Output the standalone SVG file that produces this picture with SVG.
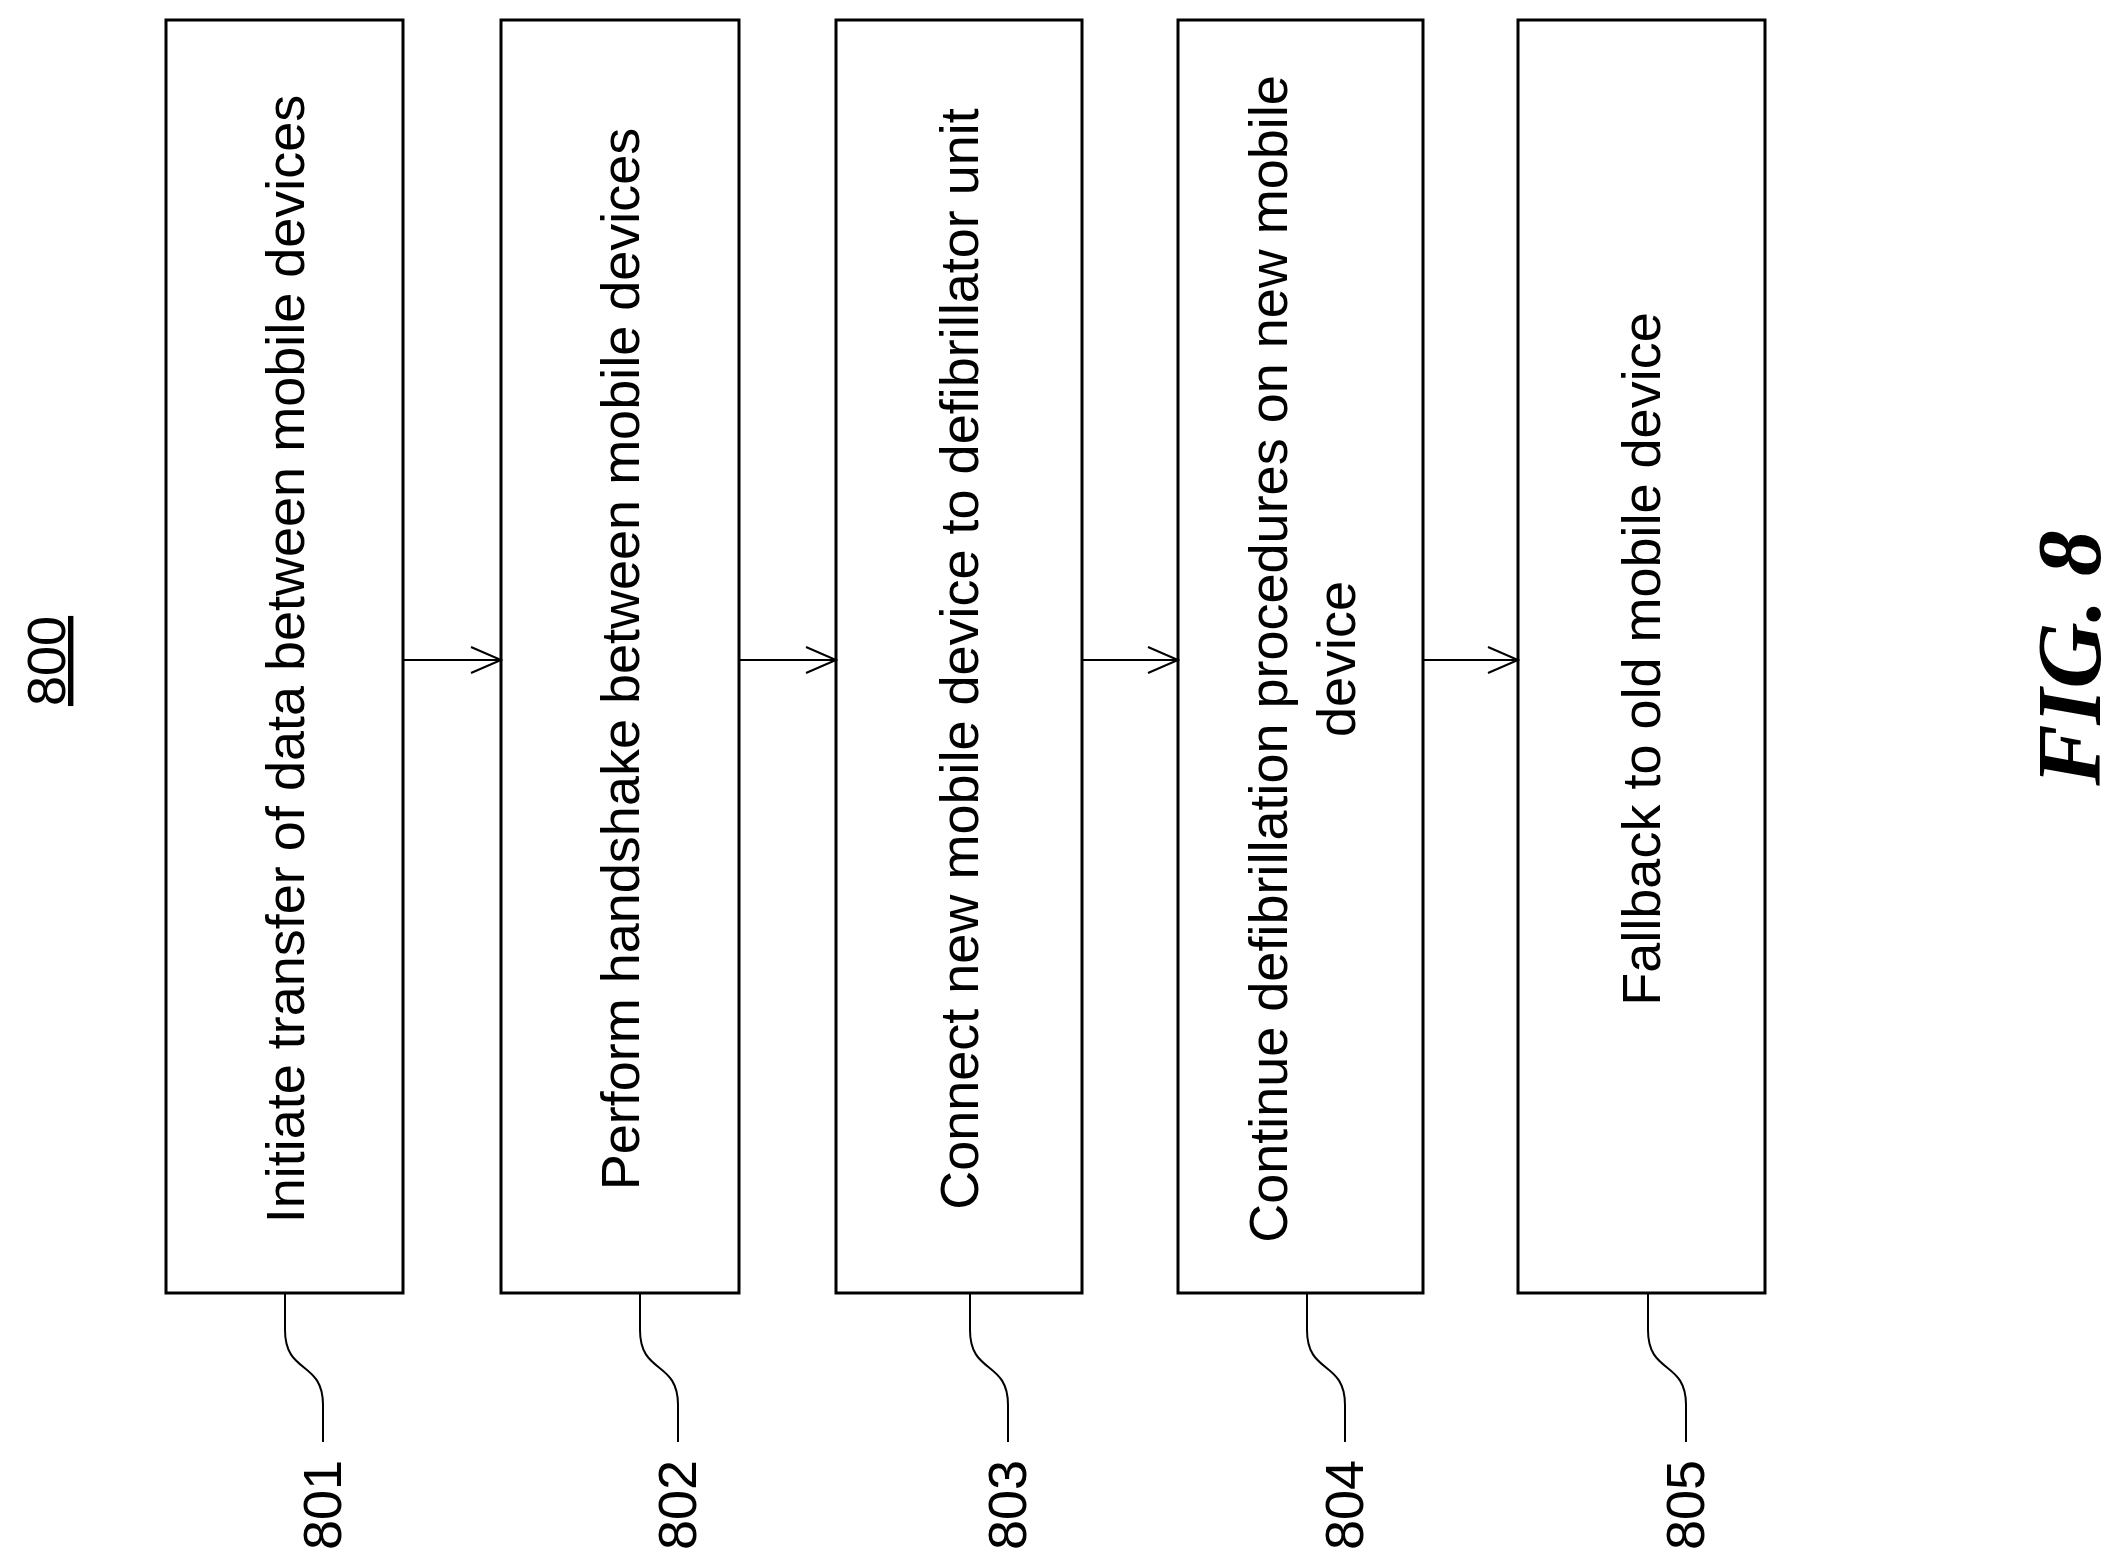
<svg xmlns="http://www.w3.org/2000/svg" width="2122" height="1563" viewBox="0 0 2122 1563">
<style>
.b{fill:#fff;stroke:#000;stroke-width:3}
.t{font-family:"Liberation Sans",Arial,sans-serif;font-size:54px;text-anchor:middle;fill:#000}
.c{fill:none;stroke:#000;stroke-width:2}
</style>
<defs><marker id="a" markerWidth="34" markerHeight="34" refX="32" refY="15" orient="auto" markerUnits="userSpaceOnUse"><path d="M2,2 L32,15 L2,28" fill="none" stroke="#000" stroke-width="2"/></marker></defs>
<rect width="2122" height="1563" fill="#fff"/>
<text class="t" transform="translate(65,661) rotate(-90)" text-decoration="underline">800</text>
<g id="n801"><rect class="b" x="166" y="20" width="237" height="1273"/><text class="t" transform="translate(304,659) rotate(-90)">Initiate transfer of data between mobile devices</text></g>
<g id="n802"><rect class="b" x="501" y="20" width="238" height="1273"/><text class="t" transform="translate(639,659) rotate(-90)">Perform handshake between mobile devices</text></g>
<g id="n803"><rect class="b" x="836" y="20" width="246" height="1273"/><text class="t" transform="translate(978,659) rotate(-90)">Connect new mobile device to defibrillator unit</text></g>
<g id="n804"><rect class="b" x="1178" y="20" width="245" height="1273"/><text class="t" transform="translate(1287,659) rotate(-90)">Continue defibrillation procedures on new mobile</text><text class="t" transform="translate(1355,659) rotate(-90)">device</text></g>
<g id="n805"><rect class="b" x="1518" y="20" width="247" height="1273"/><text class="t" transform="translate(1660,659) rotate(-90)">Fallback to old mobile device</text></g>
<g id="connectors">
<line class="c" x1="403" y1="660" x2="501" y2="660" marker-end="url(#a)"/>
<line class="c" x1="739" y1="660" x2="836" y2="660" marker-end="url(#a)"/>
<line class="c" x1="1082" y1="660" x2="1178" y2="660" marker-end="url(#a)"/>
<line class="c" x1="1423" y1="660" x2="1518" y2="660" marker-end="url(#a)"/>
</g>
<g id="leaders">
<path class="c" d="M285,1293 V1330 C285,1375 323,1360 323,1405 V1442"/>
<path class="c" d="M640,1293 V1330 C640,1375 678,1360 678,1405 V1442"/>
<path class="c" d="M970,1293 V1330 C970,1375 1008,1360 1008,1405 V1442"/>
<path class="c" d="M1307,1293 V1330 C1307,1375 1345,1360 1345,1405 V1442"/>
<path class="c" d="M1648,1293 V1330 C1648,1375 1686,1360 1686,1405 V1442"/>
</g>
<text class="t" transform="translate(341,1505) rotate(-90)">801</text>
<text class="t" transform="translate(696,1505) rotate(-90)">802</text>
<text class="t" transform="translate(1026,1505) rotate(-90)">803</text>
<text class="t" transform="translate(1363,1505) rotate(-90)">804</text>
<text class="t" transform="translate(1704,1505) rotate(-90)">805</text>
<text transform="translate(2100,658) rotate(-90)" font-family="Liberation Serif,serif" font-weight="bold" font-style="italic" font-size="92" text-anchor="middle">FIG. 8</text>
</svg>
